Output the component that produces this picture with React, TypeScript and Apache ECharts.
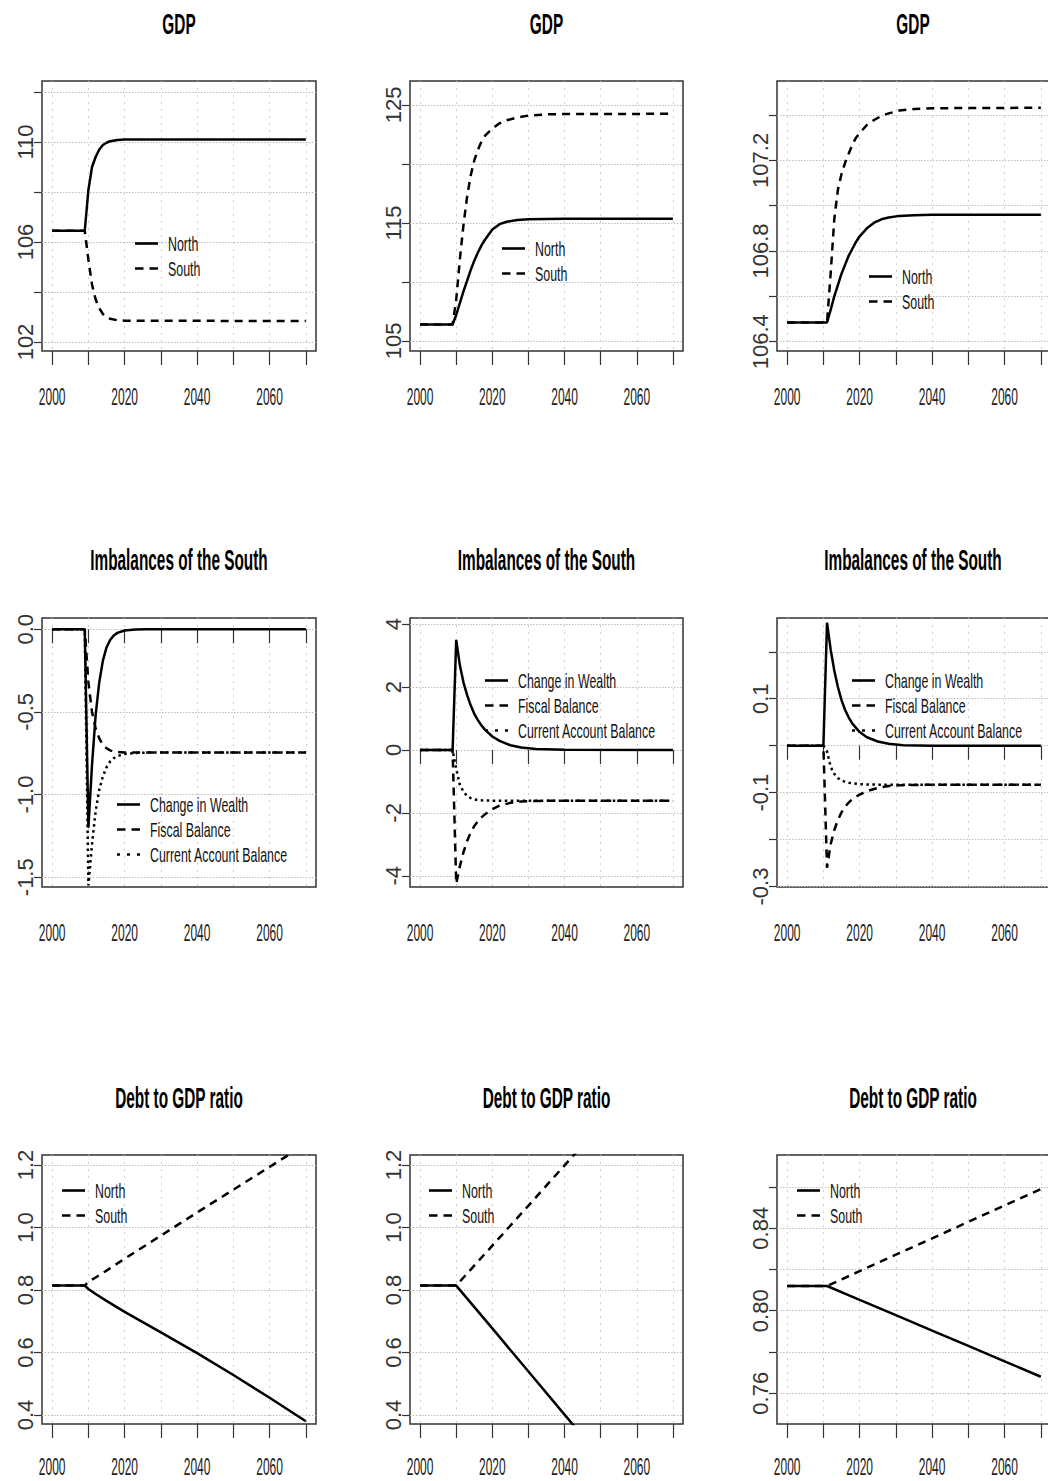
import React, { useEffect, useRef } from 'react';
import * as echarts from 'echarts';

// ---------- shared axis data ----------
const xTickValues = [2000, 2010, 2020, 2030, 2040, 2050, 2060, 2070];
const xTickLabels = [2000, 2020, 2040, 2060];
const xMin = 1997.2;
const xMax = 2072.8;
const rowTitles = ['GDP', 'Imbalances of the South', 'Debt to GDP ratio'];

// ---------- Panel 1: GDP (column 1) ----------
const gdp1Years = [2000, 2009, 2010, 2011, 2012, 2013, 2014, 2015, 2016, 2018, 2020, 2070];
const gdp1North = [106.45, 106.45, 108.08, 109.0, 109.4, 109.7, 109.88, 109.97, 110.03, 110.08, 110.1, 110.1];
const gdp1South = [106.45, 106.45, 105.3, 104.3, 103.7, 103.35, 103.12, 103.0, 102.93, 102.87, 102.85, 102.84];
const gdp1YTicks = [102, 104, 106, 108, 110, 112];
const gdp1YLabels = [102, 106, 110];

// ---------- Panel 2: GDP (column 2) ----------
const gdp2Years = [2000, 2009, 2010, 2011, 2012, 2013, 2014, 2015, 2016, 2017, 2018, 2020, 2022, 2024, 2027, 2030, 2035, 2040, 2070];
const gdp2North = [106.4, 106.4, 107.2, 108.2, 109.2, 110.1, 111.0, 111.8, 112.5, 113.1, 113.6, 114.45, 114.9, 115.1, 115.25, 115.32, 115.34, 115.35, 115.36];
const gdp2South = [106.4, 106.4, 108.5, 111.9, 114.8, 117.2, 119.0, 120.3, 121.2, 121.9, 122.4, 123.0, 123.45, 123.7, 123.95, 124.1, 124.2, 124.23, 124.25];
const gdp2YTicks = [105, 110, 115, 120, 125];
const gdp2YLabels = [105, 115, 125];

// ---------- Panel 3: GDP (column 3) ----------
const gdp3Years = [2000, 2011, 2012, 2013, 2014, 2015, 2016, 2017, 2018, 2019, 2020, 2022, 2024, 2026, 2028, 2031, 2035, 2040, 2070];
const gdp3North = [106.485, 106.485, 106.54, 106.6, 106.65, 106.7, 106.74, 106.78, 106.81, 106.84, 106.865, 106.9, 106.925, 106.94, 106.948, 106.955, 106.958, 106.96, 106.96];
const gdp3South = [106.485, 106.485, 106.7, 106.94, 107.07, 107.14, 107.19, 107.23, 107.27, 107.3, 107.32, 107.356, 107.378, 107.396, 107.407, 107.42, 107.426, 107.43, 107.432];
const gdp3YTicks = [106.4, 106.6, 106.8, 107.0, 107.2, 107.4];
const gdp3YLabels = [106.4, 106.8, 107.2];

// ---------- Panel 4: Imbalances (column 1) ----------
const imb1Years = [2000, 2009, 2010, 2011, 2012, 2013, 2014, 2015, 2016, 2017, 2018, 2020, 2023, 2026, 2070];
const imb1Wealth = [0, 0, -1.2, -0.82, -0.52, -0.32, -0.19, -0.11, -0.065, -0.038, -0.022, -0.008, -0.002, 0, 0];
const imb1Fiscal = [0, 0, -0.32, -0.5, -0.6, -0.66, -0.7, -0.72, -0.733, -0.74, -0.743, -0.745, -0.746, -0.746, -0.746];
const imb1Current = [0, 0, -1.55, -1.3, -1.1, -0.97, -0.89, -0.835, -0.8, -0.78, -0.767, -0.755, -0.748, -0.746, -0.746];
const imb1YTicks = [-1.5, -1.0, -0.5, 0];
const imb1YLabels = [-1.5, -1.0, -0.5, 0];

// ---------- Panel 5: Imbalances (column 2) ----------
const imb2Years = [2000, 2009, 2010, 2011, 2012, 2013, 2014, 2015, 2016, 2017, 2018, 2020, 2022, 2025, 2028, 2032, 2040, 2070];
const imb2Wealth = [0, 0, 3.5, 2.7, 2.15, 1.75, 1.42, 1.15, 0.95, 0.78, 0.64, 0.43, 0.29, 0.15, 0.08, 0.03, 0.005, 0];
const imb2Fiscal = [0, 0, -4.25, -3.7, -3.25, -2.9, -2.62, -2.42, -2.26, -2.14, -2.04, -1.88, -1.77, -1.68, -1.64, -1.62, -1.61, -1.61];
const imb2Current = [0, 0, -0.6, -1.1, -1.33, -1.46, -1.53, -1.57, -1.59, -1.6, -1.605, -1.61, -1.61, -1.61, -1.61, -1.61, -1.61, -1.61];
const imb2YTicks = [-4, -2, 0, 2, 4];
const imb2YLabels = [-4, -2, 0, 2, 4];

// ---------- Panel 6: Imbalances (column 3) ----------
const imb3Years = [2000, 2010, 2011, 2012, 2013, 2014, 2015, 2016, 2017, 2018, 2020, 2022, 2025, 2028, 2032, 2040, 2070];
const imb3Wealth = [0, 0, 0.262, 0.205, 0.16, 0.125, 0.097, 0.076, 0.06, 0.047, 0.029, 0.018, 0.009, 0.004, 0.001, 0, 0];
const imb3Fiscal = [0, 0, -0.26, -0.21, -0.18, -0.158, -0.142, -0.13, -0.121, -0.114, -0.104, -0.097, -0.09, -0.086, -0.084, -0.083, -0.083];
const imb3Current = [0, 0, -0.012, -0.045, -0.06, -0.069, -0.074, -0.077, -0.079, -0.08, -0.082, -0.0825, -0.083, -0.083, -0.083, -0.083, -0.083];
const imb3YTicks = [-0.3, -0.2, -0.1, 0, 0.1, 0.2];
const imb3YLabels = [-0.3, -0.1, 0.1];

// ---------- Panel 7: Debt to GDP (column 1) ----------
const debt1Years = [2000, 2009, 2010, 2012, 2015, 2020, 2030, 2040, 2050, 2060, 2070];
const debt1North = [0.814, 0.814, 0.803, 0.787, 0.765, 0.73, 0.664, 0.598, 0.528, 0.455, 0.38];
const debt1South = [0.814, 0.814, 0.826, 0.84, 0.862, 0.9, 0.974, 1.048, 1.121, 1.194, 1.267];
const debt1YTicks = [0.4, 0.6, 0.8, 1.0, 1.2];
const debt1YLabels = [0.4, 0.6, 0.8, 1.0, 1.2];

// ---------- Panel 8: Debt to GDP (column 2) ----------
const debt2Years = [2000, 2010, 2020, 2030, 2040, 2050, 2060, 2070];
const debt2North = [0.814, 0.814, 0.677, 0.539, 0.401, 0.263, 0.125, -0.013];
const debt2South = [0.814, 0.814, 0.942, 1.07, 1.199, 1.327, 1.455, 1.584];
const debt2YTicks = [0.4, 0.6, 0.8, 1.0, 1.2];
const debt2YLabels = [0.4, 0.6, 0.8, 1.0, 1.2];

// ---------- Panel 9: Debt to GDP (column 3) ----------
const debt3Years = [2000, 2011, 2020, 2030, 2040, 2050, 2060, 2070];
const debt3North = [0.812, 0.812, 0.8053, 0.7979, 0.7904, 0.783, 0.7755, 0.768];
const debt3South = [0.812, 0.812, 0.8192, 0.8272, 0.8351, 0.8431, 0.851, 0.859];
const debt3YTicks = [0.76, 0.78, 0.8, 0.82, 0.84, 0.86];
const debt3YLabels = [0.76, 0.8, 0.84];

// ---------- layout / style ----------
const colLeft = [42, 410, 777];
const colWidth = [274, 273, 274];
const rowTop = [81, 618, 1155];
const rowHeight = [270, 269, 269];
const titleY = [24, 560, 1098];
const xLabelMargin = [34, 34, 31];
const FONT = "'Liberation Sans', Arial, Helvetica, sans-serif";
const X_SQUISH = 0.52;
const LEGEND_SQUISH = 0.59;
const TITLE_SQUISH = 0.53;

type Dash = 'solid' | 'dashed' | 'dotted';
type SDef = { name: string; years: number[]; values: number[]; dash: Dash };
type Panel = {
  row: number; col: number; yMin: number; yMax: number; yStep: number;
  yTicks: number[]; yLabels: number[]; dec: number; series: SDef[]; legend: [number, number];
};

const NS = (years: number[], n: number[], s: number[]): SDef[] => [
  { name: 'North', years, values: n, dash: 'solid' },
  { name: 'South', years, values: s, dash: 'dashed' },
];
const IMB = (years: number[], w: number[], f: number[], c: number[]): SDef[] => [
  { name: 'Change in Wealth', years, values: w, dash: 'solid' },
  { name: 'Fiscal Balance', years, values: f, dash: 'dashed' },
  { name: 'Current Account Balance', years, values: c, dash: 'dotted' },
];

const panels: Panel[] = [
  { row: 0, col: 0, yMin: 101.64, yMax: 112.44, yStep: 2, yTicks: gdp1YTicks, yLabels: gdp1YLabels, dec: 0, series: NS(gdp1Years, gdp1North, gdp1South), legend: [135, 243] },
  { row: 0, col: 1, yMin: 104.15, yMax: 127.03, yStep: 5, yTicks: gdp2YTicks, yLabels: gdp2YLabels, dec: 0, series: NS(gdp2Years, gdp2North, gdp2South), legend: [502, 248] },
  { row: 0, col: 2, yMin: 106.359, yMax: 107.55, yStep: 0.2, yTicks: gdp3YTicks, yLabels: gdp3YLabels, dec: 1, series: NS(gdp3Years, gdp3North, gdp3South), legend: [869, 276] },
  { row: 1, col: 0, yMin: -1.559, yMax: 0.068, yStep: 0.5, yTicks: imb1YTicks, yLabels: imb1YLabels, dec: 1, series: IMB(imb1Years, imb1Wealth, imb1Fiscal, imb1Current), legend: [117, 804] },
  { row: 1, col: 1, yMin: -4.355, yMax: 4.196, yStep: 2, yTicks: imb2YTicks, yLabels: imb2YLabels, dec: 0, series: IMB(imb2Years, imb2Wealth, imb2Fiscal, imb2Current), legend: [485, 680] },
  { row: 1, col: 2, yMin: -0.301, yMax: 0.272, yStep: 0.1, yTicks: imb3YTicks, yLabels: imb3YLabels, dec: 1, series: IMB(imb3Years, imb3Wealth, imb3Fiscal, imb3Current), legend: [852, 680] },
  { row: 2, col: 0, yMin: 0.371, yMax: 1.232, yStep: 0.2, yTicks: debt1YTicks, yLabels: debt1YLabels, dec: 1, series: NS(debt1Years, debt1North, debt1South), legend: [62, 1190] },
  { row: 2, col: 1, yMin: 0.371, yMax: 1.232, yStep: 0.2, yTicks: debt2YTicks, yLabels: debt2YLabels, dec: 1, series: NS(debt2Years, debt2North, debt2South), legend: [429, 1190] },
  { row: 2, col: 2, yMin: 0.7451, yMax: 0.8755, yStep: 0.02, yTicks: debt3YTicks, yLabels: debt3YLabels, dec: 2, series: NS(debt3Years, debt3North, debt3South), legend: [797, 1190] },
];

const dashType = (d: Dash): any => (d === 'solid' ? 'solid' : d === 'dashed' ? [8, 6] : [2.5, 3.5]);
const legendIcon = (d: Dash): string =>
  d === 'solid'
    ? 'path://M0,0H23V2.6H0Z'
    : d === 'dashed'
    ? 'path://M0,0H8.5V2.6H0Z M14.5,0H23V2.6H14.5Z'
    : 'path://M0,0H3V2.6H0Z M10,0H13V2.6H10Z M20,0H23V2.6H20Z';
const near = (list: number[], v: number) => list.some((x) => Math.abs(x - v) < 1e-7);

const legendNames = ['North', 'South', 'Change in Wealth', 'Fiscal Balance', 'Current Account Balance'];

function buildOption(): any {
  const grid = panels.map((p) => ({
    left: colLeft[p.col], top: rowTop[p.row], width: colWidth[p.col], height: rowHeight[p.row],
    show: true, borderColor: '#333', borderWidth: 1.5, backgroundColor: 'transparent',
    containLabel: false, outerBoundsMode: 'none',
  }));
  const xAxis = panels.map((p, i) => ({
    type: 'value', gridIndex: i, min: xMin, max: xMax, splitNumber: 7,
    axisLine: { show: false },
    axisTick: { show: true, length: 14, customValues: xTickValues, lineStyle: { color: '#333', width: 1.2 } },
    axisLabel: {
      customValues: xTickLabels, margin: xLabelMargin[p.row], fontSize: 23, fontFamily: FONT, color: '#222',
      formatter: (v: number) => (near(xTickLabels, v) ? String(Math.round(v)) : ''),
    },
    splitLine: { show: true, lineStyle: { color: '#cfcfcf', width: 1, type: [2, 5] } },
  }));
  const yAxis = panels.map((p, i) => ({
    type: 'value', gridIndex: i, min: p.yMin, max: p.yMax,
    splitNumber: Math.round((p.yMax - p.yMin) / p.yStep),
    axisLine: { show: false },
    axisTick: { show: true, length: 8, customValues: p.yTicks, lineStyle: { color: '#333', width: 1.2 } },
    axisLabel: {
      customValues: p.yLabels, rotate: 90, margin: 6, fontSize: 22, fontFamily: FONT, color: '#333',
      formatter: (v: number) => (near(p.yLabels, v) ? (Math.abs(v) < 1e-9 ? 0 : v).toFixed(p.dec) : ''),
    },
    splitLine: { show: true, lineStyle: { color: '#bdbdbd', width: 1.2, type: [1.5, 1.5] } },
  }));
  const series: any[] = [];
  panels.forEach((p, i) => {
    p.series.forEach((s) => {
      series.push({
        type: 'line', name: s.name, xAxisIndex: i, yAxisIndex: i,
        data: s.years.map((y, k) => [y, s.values[k]]),
        showSymbol: false, symbol: 'none', silent: true, clip: true,
        emphasis: { disabled: true },
        lineStyle: { color: '#000', width: 2.5, type: dashType(s.dash) },
        itemStyle: { color: '#000' },
      });
    });
  });
  const legend = panels.map((p) => ({
    orient: 'vertical', left: p.legend[0], top: p.legend[1] - 10,
    itemWidth: 23, itemHeight: 20, itemGap: 4, padding: 0, selectedMode: false,
    data: p.series.map((s) => ({ name: s.name, icon: legendIcon(s.dash), itemStyle: { color: '#000' } })),
    textStyle: { fontSize: 21, fontFamily: FONT, color: '#111', padding: [0, 0, 0, 5] },
  }));
  const graphic = panels.map((p) => ({
    type: 'text', x: colLeft[p.col] + colWidth[p.col] / 2 + (p.col === 2 ? -1 : 0), y: titleY[p.row],
    scaleX: TITLE_SQUISH, silent: true,
    style: {
      text: rowTitles[p.row], fontSize: 29, fontWeight: 'bold', fontFamily: FONT, fill: '#000',
      align: 'center', verticalAlign: 'middle',
    },
  }));
  return { animation: false, backgroundColor: '#fff', grid, xAxis, yAxis, series, legend, graphic };
}

function squish(root: HTMLElement) {
  const texts = root.querySelectorAll('text');
  texts.forEach((node) => {
    const el = node as SVGTextElement;
    if (el.getAttribute('textLength')) return;
    const s = (el.textContent || '').trim();
    let f = 0;
    if (/^20\d0$/.test(s)) f = X_SQUISH;
    else if (legendNames.includes(s)) f = LEGEND_SQUISH;
    if (!f) return;
    const len = el.getComputedTextLength();
    if (!len) return;
    el.setAttribute('textLength', (len * f).toFixed(2));
    el.setAttribute('lengthAdjust', 'spacingAndGlyphs');
  });
}

export default function App() {
  const ref = useRef<HTMLDivElement>(null);
  useEffect(() => {
    const el = ref.current!;
    const chart = echarts.init(el, undefined, { renderer: 'svg', width: 1048, height: 1481 });
    const run = () => squish(el);
    chart.on('finished', run);
    chart.setOption(buildOption());
    run();
    const t = setTimeout(run, 60);
    return () => {
      clearTimeout(t);
      chart.dispose();
    };
  }, []);
  return (
    <div
      ref={ref}
      style={{ position: 'absolute', left: 0, top: 0, width: 1048, height: 1481, background: '#fff' }}
    />
  );
}
